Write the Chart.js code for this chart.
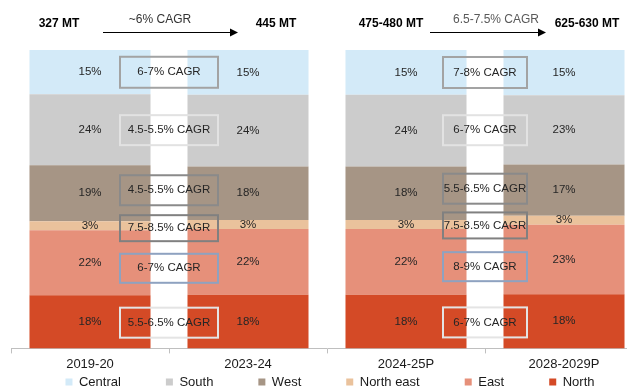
<!DOCTYPE html>
<html>
<head>
<meta charset="utf-8">
<script src="https://cdn.jsdelivr.net/npm/chart.js@4"></script>
<style>
html,body{margin:0;padding:0;background:#fff;overflow:hidden}
#wrap{position:absolute;left:0;top:0;width:660px;height:390px}
</style>
</head>
<body>
<div id="wrap"><canvas id="mixChart"></canvas></div>
<script>

// periods on the x axis
const periods = ["2019-20","2023-24","2024-25P","2028-2029P"]

// regional share (%) per period
const north     = [18,18,18,18]
const east      = [22,22,22,23]
const northEast = [3,3,3,3]
const west      = [19,18,18,17]
const south     = [24,24,24,23]
const central   = [15,15,15,15]

// total demand above each bar and growth between the two bars of a pair
const volumes    = ["327 MT","445 MT","475-480 MT","625-630 MT"]
const totalCagr  = ["~6% CAGR","6.5-7.5% CAGR"]

// region growth between the two bars of a pair (first pair, second pair)
const northCagr     = ["5.5-6.5% CAGR","6-7% CAGR"]
const eastCagr      = ["6-7% CAGR","8-9% CAGR"]
const northEastCagr = ["7.5-8.5% CAGR","7.5-8.5% CAGR"]
const westCagr      = ["4.5-5.5% CAGR","5.5-6.5% CAGR"]
const southCagr     = ["4.5-5.5% CAGR","6-7% CAGR"]
const centralCagr   = ["6-7% CAGR","7-8% CAGR"]

const FONT = "'Liberation Sans', Arial, sans-serif"

const series = [
 {label:"North",      values:north,     cagr:northCagr,     color:"#d44a26", box:"#e4e4e4", shift:1,  h:30},
 {label:"East",       values:east,      cagr:eastCagr,      color:"#e6907a", box:"#8ea2c0", shift:6,  h:29},
 {label:"North east", values:northEast, cagr:northEastCagr, color:"#eac29c", box:"#808080", shift:3,  h:26},
 {label:"West",       values:west,      cagr:westCagr,      color:"#a69585", box:"#8a8a8a", shift:-3, h:30},
 {label:"South",      values:south,     cagr:southCagr,     color:"#cccccc", box:"#e2e2e2", shift:0,  h:30},
 {label:"Central",    values:central,   cagr:centralCagr,   color:"#d3eaf8", box:"#a3a3a3", shift:0,  h:31}
]

// every bar is shown as 100%
const totals = periods.map((p,i)=>series.reduce((s,d)=>s+d.values[i],0))

const datasets = series.map(s=>({
 label:s.label,
 data:s.values.map((v,i)=>v/totals[i]*100),
 backgroundColor:s.color,
 borderWidth:0,
 categoryPercentage:1,
 barPercentage:0.766
}))

/* labels, growth boxes and the header arrows */
const annotate = {
 id:"annotate",
 afterDatasetsDraw(chart){
  const ctx = chart.ctx
  const xs = chart.scales.x
  ctx.save()
  ctx.textAlign = "center"
  ctx.textBaseline = "middle"

  // share labels
  ctx.font = "11.5px " + FONT
  ctx.fillStyle = "#262626"
  series.forEach((s,d)=>{
   chart.getDatasetMeta(d).data.forEach((bar,i)=>{
    ctx.fillText(s.values[i] + "%", bar.x, (bar.y + bar.base)/2)
   })
  })

  // growth boxes in the gap of each pair
  const boxW = [98,84]
  ;[0,1].forEach(p=>{
   const a = p*2, b = p*2+1
   const cx = (xs.getPixelForValue(a) + xs.getPixelForValue(b))/2
   ctx.font = "11.5px " + FONT
   series.forEach((s,d)=>{
    const meta = chart.getDatasetMeta(d).data
    const ya = (meta[a].y + meta[a].base)/2
    const yb = (meta[b].y + meta[b].base)/2
    const cy = (ya + yb)/2 + s.shift
    ctx.lineWidth = 2
    ctx.strokeStyle = s.box
    ctx.strokeRect(cx - boxW[p]/2, cy - s.h/2, boxW[p], s.h)
    ctx.fillStyle = "#262626"
    ctx.fillText(s.cagr[p], cx, cy)
   })

   // header: volumes and overall growth arrow
   ctx.font = "bold 12px " + FONT
   ctx.fillStyle = "#000"
   ctx.fillText(volumes[a], cx + (p ? -94 : -110), 24)
   ctx.fillText(volumes[b], cx + (p ? 102 : 107), 24)

   ctx.font = "12px " + FONT
   ctx.fillStyle = p ? "#595959" : "#333"
   ctx.fillText(totalCagr[p], cx + (p ? 11 : -9), 20)

   const x1 = cx + (p ? -55 : -66), x2 = cx + (p ? 61 : 69)
   ctx.strokeStyle = "#000"
   ctx.lineWidth = 1
   ctx.beginPath()
   ctx.moveTo(x1, 32.5)
   ctx.lineTo(x2 - 7, 32.5)
   ctx.stroke()
   ctx.fillStyle = "#000"
   ctx.beginPath()
   ctx.moveTo(x2, 32.5)
   ctx.lineTo(x2 - 8, 28.5)
   ctx.lineTo(x2 - 8, 36.5)
   ctx.closePath()
   ctx.fill()
  })
  ctx.restore()
 },

 // legend row under the axis, Central first
 afterDraw(chart){
  const ctx = chart.ctx
  ctx.save()
  ctx.font = "13px " + FONT
  ctx.textBaseline = "middle"
  ctx.textAlign = "left"
  const items = series.slice().reverse()
  const gap = 45, box = 7, space = 6.5
  const widths = items.map(s=>box + space + ctx.measureText(s.label).width)
  const full = widths.reduce((a,b)=>a+b,0) + gap*(items.length-1)
  let x = (chart.width - full)/2
  const y = 382
  items.forEach((s,i)=>{
   ctx.fillStyle = s.color
   ctx.fillRect(x, y - box/2, box, box)
   ctx.fillStyle = "#1a1a1a"
   ctx.fillText(s.label, x + box + space, y)
   x += widths[i] + gap
  })
  ctx.restore()
 }
}

new Chart(document.getElementById("mixChart"),{
 type:"bar",
 data:{labels:periods, datasets:datasets},
 plugins:[annotate],
 options:{
  responsive:true,
  maintainAspectRatio:false,
  animation:false,
  layout:{padding:{top:50,left:11,right:17,bottom:15}},
  scales:{
   x:{
    stacked:true,
    grid:{offset:true, drawOnChartArea:false, drawTicks:true, tickLength:5, color:"#bfbfbf"},
    border:{color:"#bfbfbf"},
    ticks:{color:"#1a1a1a", padding:3, font:{family:FONT, size:13}}
   },
   y:{stacked:true, display:false, min:0, max:100}
  },
  plugins:{
   tooltip:{enabled:false},
   legend:{display:false}
  }
 }
})

</script>
</body>
</html>
